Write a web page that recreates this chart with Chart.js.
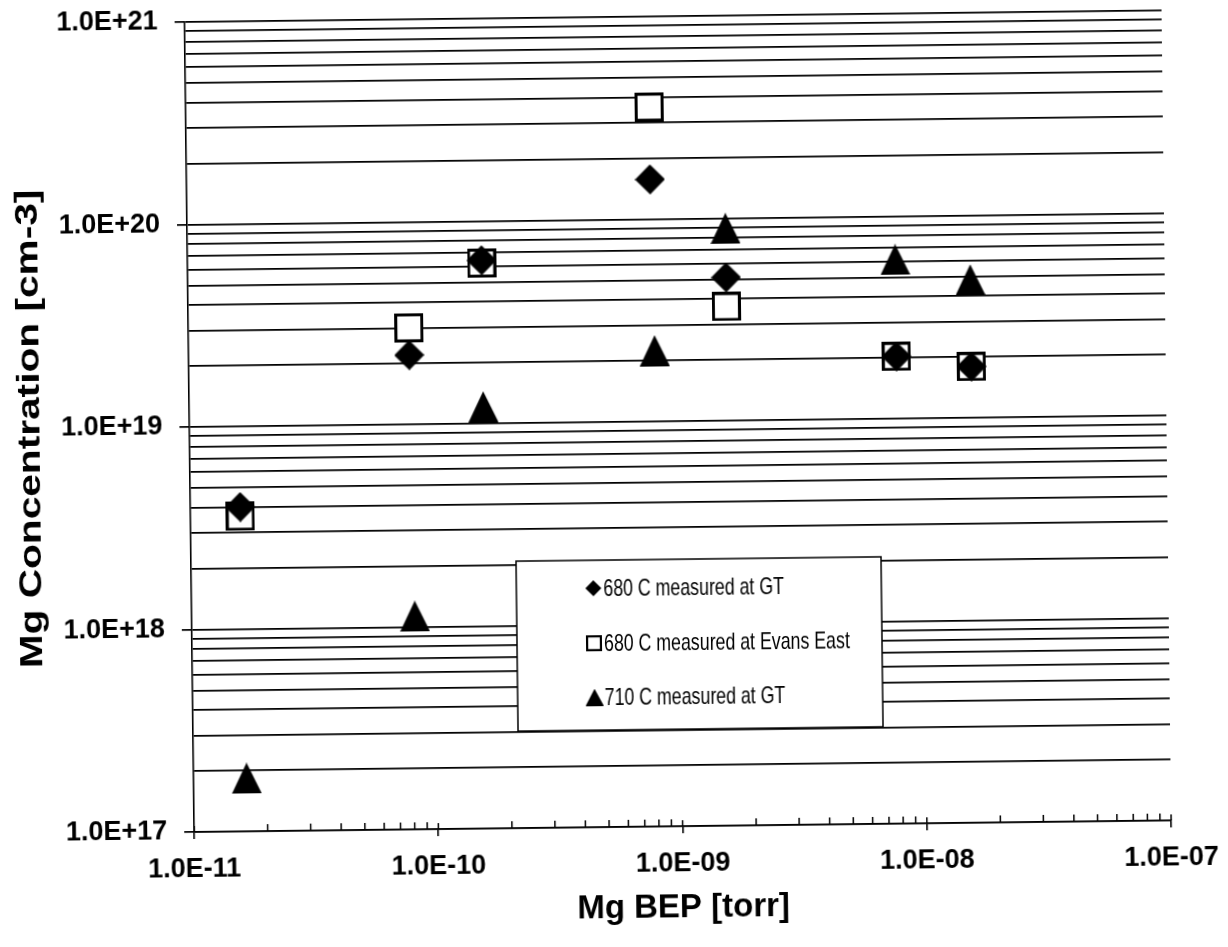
<!DOCTYPE html>
<html>
<head>
<meta charset="utf-8">
<title>Mg concentration vs Mg BEP</title>
<script src="https://cdn.jsdelivr.net/npm/chart.js@4.4.1/dist/chart.umd.min.js"></script>
<style>
  html, body { margin: 0; padding: 0; background: #fff; overflow: hidden; }
  /* the scanned figure sits a little askew */
  #chart { display: block; transform: rotate(-0.68deg); }
</style>
</head>
<body>
<canvas id="chart" width="1228" height="947"></canvas>
<script>
const seriesLabels = ["680 C measured at GT", "680 C measured at Evans East", "710 C measured at GT"]
const xTitle = "Mg BEP [torr]"
const yTitle = "Mg Concentration [cm-3]"

// Mg BEP [torr]
const bep680 = [1.6e-11, 8.0e-11, 1.6e-10, 7.9e-10, 1.6e-9, 7.9e-9, 1.6e-8]
const bep710 = [1.65e-11, 8.2e-11, 1.6e-10, 8.1e-10, 1.6e-9, 7.9e-9, 1.6e-8]

// Mg concentration [cm-3]
const concGT680 = [4.0e18, 2.2e19, 6.4e19, 1.57e20, 5.1e19, 2.03e19, 1.79e19]
const concEE680 = [3.6e18, 3.0e19, 6.2e19, 3.57e20, 3.66e19, 2.03e19, 1.79e19]
const concGT710 = [1.83e17, 1.13e18, 1.21e19, 2.24e19, 8.9e19, 6.1e19, 4.8e19]

const xTickValues = [1e-11, 1e-10, 1e-9, 1e-8, 1e-7]
const xTickLabels = ["1.0E-11", "1.0E-10", "1.0E-09", "1.0E-08", "1.0E-07"]
const yTickValues = [1e17, 1e18, 1e19, 1e20, 1e21]
const yTickLabels = ["1.0E+17", "1.0E+18", "1.0E+19", "1.0E+20", "1.0E+21"]
const minorSteps = [2, 3, 4, 5, 6, 7, 8, 9]

const FONT = "'Liberation Sans', Arial, Helvetica, sans-serif"

function marker(w, h, draw) {
  const c = document.createElement("canvas")
  c.width = w
  c.height = h
  draw(c.getContext("2d"), w, h)
  return c
}

function diamond(s) {
  return marker(s, s, (g, w, h) => {
    g.fillStyle = "#000"
    g.beginPath()
    g.moveTo(w / 2, 0)
    g.lineTo(w, h / 2)
    g.lineTo(w / 2, h)
    g.lineTo(0, h / 2)
    g.closePath()
    g.fill()
  })
}

function square(s, lw) {
  return marker(s, s, (g, w, h) => {
    g.fillStyle = "#fff"
    g.fillRect(0, 0, w, h)
    g.strokeStyle = "#000"
    g.lineWidth = lw
    g.strokeRect(lw / 2, lw / 2, w - lw, h - lw)
  })
}

function triangle(w0, h0) {
  return marker(w0, h0, (g, w, h) => {
    g.fillStyle = "#000"
    g.beginPath()
    g.moveTo(w / 2, 0)
    g.lineTo(w, h)
    g.lineTo(0, h)
    g.closePath()
    g.fill()
  })
}

const plotMarks = [diamond(30), square(29, 3), triangle(30, 31)]
const legendMarks = [diamond(16), square(16, 2.2), triangle(18, 17)]

const points = (xs, ys) => xs.map((x, i) => ({ x, y: ys[i] }))

// extra ticks along the bottom axis: minor ticks and the inner half of the major ones
const bottomTicks = {
  id: "bottomTicks",
  afterDraw(chart) {
    const { ctx, chartArea } = chart
    const x = chart.scales.x
    const b = chartArea.bottom
    ctx.save()
    ctx.strokeStyle = "#000"
    ctx.lineWidth = 1.5
    ctx.beginPath()
    xTickValues.forEach((v, i) => {
      const px = x.getPixelForValue(v)
      ctx.moveTo(px, b)
      ctx.lineTo(px, b - 6)
      if (i < xTickValues.length - 1) {
        minorSteps.forEach(m => {
          const p = x.getPixelForValue(m * v)
          ctx.moveTo(p, b)
          ctx.lineTo(p, b - 7)
        })
      }
    })
    ctx.stroke()
    ctx.restore()
  }
}

// y title: the printed one is drawn stretched along its length
const yAxisTitle = {
  id: "yAxisTitle",
  afterDraw(chart) {
    const { ctx, chartArea } = chart
    ctx.save()
    ctx.translate(31, (chartArea.top + chartArea.bottom) / 2)
    ctx.rotate(-Math.PI / 2)
    ctx.scale(1.27, 1)
    ctx.font = "bold 32px " + FONT
    ctx.fillStyle = "#000"
    ctx.textAlign = "center"
    ctx.textBaseline = "middle"
    ctx.fillText(yTitle, 0, 0)
    ctx.restore()
  }
}

// boxed legend inside the plot
const boxLegend = {
  id: "boxLegend",
  afterDraw(chart) {
    const { ctx } = chart
    const box = { left: 515, top: 560, right: 880, bottom: 730 }
    const rows = [588, 643, 697]
    ctx.save()
    ctx.fillStyle = "#fff"
    ctx.fillRect(box.left, box.top, box.right - box.left, box.bottom - box.top)
    ctx.strokeStyle = "#000"
    ctx.lineWidth = 1.5
    ctx.strokeRect(box.left, box.top, box.right - box.left, box.bottom - box.top)
    ctx.font = "24px " + FONT
    ctx.fillStyle = "#000"
    ctx.textBaseline = "middle"
    ctx.textAlign = "left"
    chart.data.datasets.forEach((ds, i) => {
      const m = legendMarks[i]
      ctx.drawImage(m, 592 - m.width / 2, rows[i] - m.height / 2)
      ctx.save()
      ctx.translate(602, rows[i] + 1)
      ctx.scale(0.74, 1)
      ctx.fillText(ds.label, 0, 0)
      ctx.restore()
    })
    ctx.restore()
  }
}

const tickFont = { family: FONT, weight: "bold", size: 27 }
const titleFont = { family: FONT, weight: "bold", size: 33 }

new Chart(document.getElementById("chart"), {
  type: "scatter",
  data: {
    datasets: [
      { label: seriesLabels[0], data: points(bep680, concGT680), pointStyle: plotMarks[0] },
      { label: seriesLabels[1], data: points(bep680, concEE680), pointStyle: plotMarks[1] },
      { label: seriesLabels[2], data: points(bep710, concGT710), pointStyle: plotMarks[2] }
    ]
  },
  options: {
    responsive: false,
    animation: false,
    events: [],
    layout: { padding: { top: 17, right: 61, left: 0, bottom: 0 } },
    plugins: {
      legend: { display: false },
      tooltip: { enabled: false }
    },
    scales: {
      x: {
        type: "logarithmic",
        min: 1e-11,
        max: 1e-7,
        afterBuildTicks: s => { s.ticks = xTickValues.map(v => ({ value: v, major: true })) },
        afterFit: s => {
          s.height = 120
          s.paddingLeft = 0
          s.paddingRight = 0
        },
        grid: { drawOnChartArea: false, color: "#000", lineWidth: 1.6, tickLength: 7 },
        border: { display: true, color: "#000", width: 1.6 },
        ticks: {
          autoSkip: false,
          maxRotation: 0,
          padding: 14,
          color: "#000",
          font: tickFont,
          callback: (v, i) => xTickLabels[i]
        },
        title: {
          display: true,
          text: xTitle,
          color: "#000",
          font: titleFont,
          padding: { top: 0, bottom: 18 }
        }
      },
      y: {
        type: "logarithmic",
        min: 1e17,
        max: 1e21,
        afterBuildTicks: s => {
          const t = []
          yTickValues.forEach((v, i) => {
            t.push({ value: v, major: true })
            if (i < yTickValues.length - 1) minorSteps.forEach(m => t.push({ value: m * v, major: false }))
          })
          s.ticks = t.sort((a, b) => a.value - b.value)
        },
        afterFit: s => {
          s.width = 190
          s.paddingTop = 0
          s.paddingBottom = 0
        },
        grid: {
          color: "#000",
          lineWidth: 1.7,
          tickLength: 10,
          tickColor: c => (c.tick && c.tick.major ? "#000" : "rgba(0,0,0,0)")
        },
        border: { display: true, color: "#000", width: 1.6 },
        ticks: {
          autoSkip: false,
          padding: 17,
          color: "#000",
          font: tickFont,
          callback: v => {
            const i = yTickValues.indexOf(v)
            return i >= 0 ? yTickLabels[i] : ""
          }
        }
      }
    }
  },
  plugins: [bottomTicks, yAxisTitle, boxLegend]
})
</script>
</body>
</html>
